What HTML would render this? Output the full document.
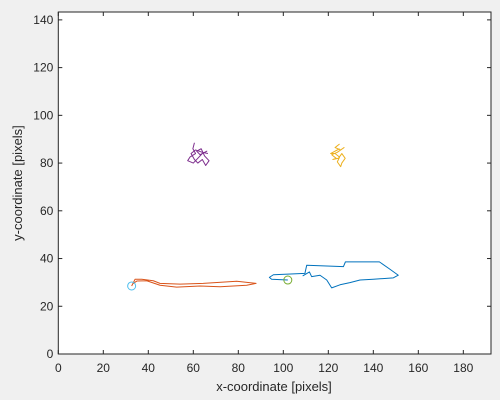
<!DOCTYPE html>
<html><head><meta charset="utf-8"><style>
body{margin:0;background:#f0f0f0;font-family:"Liberation Sans",Arial,sans-serif}
svg{display:block}
text{font-family:"Liberation Sans",Arial,sans-serif;fill:#262626}
</style></head><body>
<svg id="chart" width="500" height="400">
<rect x="0" y="0" width="500" height="400" fill="#f0f0f0"/>
<rect x="58.3" y="12" width="432.7" height="342" fill="#fff" stroke="#262626" stroke-width="1"/>
<g id="ticks"></g>
<g id="series"></g>
<text x="274" y="391" text-anchor="middle" font-size="13">x-coordinate [pixels]</text>
<text transform="translate(22,183) rotate(-90)" text-anchor="middle" font-size="13">y-coordinate [pixels]</text>
</svg>
<script>
const xTicks=[0,20,40,60,80,100,120,140,160,180];
const yTicks=[0,20,40,60,80,100,120,140];
const seriesNames=['orange-track','blue-track','purple-track','yellow-track'];
const orangeX=[32.6,34.1,37.1,42.2,45.2,54.1,64.4,79.3,87.9,83.7,71.9,63,52.6,45.2,39.3,35,33.2];
const orangeY=[28.5,31.3,31.3,30.7,29.6,29.3,29.6,30.5,29.6,28.8,28.2,28.5,28.0,28.8,30.7,30.6,29.5];
const blueX=[102,94.8,93.8,95.6,109.6,110.4,126.7,127.6,142.7,147.4,151.1,148.9,140,134.1,129.6,125.2,121.5,119.3,116.3,112.6,111.6,108.6];
const blueY=[31,31.3,32.1,33.2,33.8,37.2,36.6,38.6,38.6,35.5,33,31.9,31.3,31,29.9,29,27.7,31,33,32.4,34.4,32.7];
const purpleX=[60.5,59.8,61,58.5,57.5,60,62,64,66,63,61.5,63.5,65,67,65.5,64,62,60.5,59,61,64,66.5];
const purpleY=[88.5,86,84,82.5,81,80,82,84,85,83.5,85,86,83,81,79,81.5,80,81.5,84,85.5,84.5,84];
const yellowX=[125,123,125.5,127,124,121.5,123.5,122,124.5,126,127.5,126,125.5,124,125,123,121,125];
const yellowY=[88,86.5,85.5,86.5,84.5,83.5,82,81.5,82,84,82,80,78.5,80.5,82.5,84,84,86];
const startCircleX=[32.6,102];
const startCircleY=[28.5,31];
const NS='http://www.w3.org/2000/svg';
const L=58.3,R=491,T=12,B=354,XMAX=192.3,YMAX=143.3;
const sx=v=>L+v/XMAX*(R-L), sy=v=>B-v/YMAX*(B-T);
const tg=document.getElementById('ticks'), sg=document.getElementById('series');
function mk(tag,at,parent){const e=document.createElementNS(NS,tag);for(const k in at)e.setAttribute(k,at[k]);parent.appendChild(e);return e;}
xTicks.forEach(v=>{const x=sx(v);
 const a=mk('line',{x1:x,x2:x,y1:B,y2:B-4,stroke:'#262626'},tg);
 
 
 const b=mk('line',{x1:x,x2:x,y1:T,y2:T+4,stroke:'#262626'},tg);
 
 
 const t=mk('text',{x:x,y:B+18,'text-anchor':'middle','font-size':'12'},tg);t.textContent=v;
 
 });
yTicks.forEach(v=>{const y=sy(v);
 const a=mk('line',{x1:L,x2:L+4,y1:y,y2:y,stroke:'#262626'},tg);
 
 
 const b=mk('line',{x1:R,x2:R-4,y1:y,y2:y,stroke:'#262626'},tg);
 
 
 const t=mk('text',{x:L-5,y:y+4,'text-anchor':'end','font-size':'12'},tg);t.textContent=v;
 
 });
function line(xs,ys,c,name){const p=mk('polyline',{points:xs.map((v,i)=>sx(v)+','+sy(ys[i])).join(' '),fill:'none',stroke:c,'stroke-width':'1','stroke-linejoin':'round'},sg);
 
 }
line(orangeX,orangeY,'#D95319',seriesNames[0]);
line(blueX,blueY,'#0072BD',seriesNames[1]);
line(purpleX,purpleY,'#7E2F8E',seriesNames[2]);
line(yellowX,yellowY,'#EDB120',seriesNames[3]);
const cc=['#4DBEEE','#77AC30'];
startCircleX.forEach((v,i)=>{const c=mk('circle',{cx:sx(v),cy:sy(startCircleY[i]),r:4,fill:'none',stroke:cc[i],'stroke-width':'1'},sg);
 
 });
</script>
</body></html>
